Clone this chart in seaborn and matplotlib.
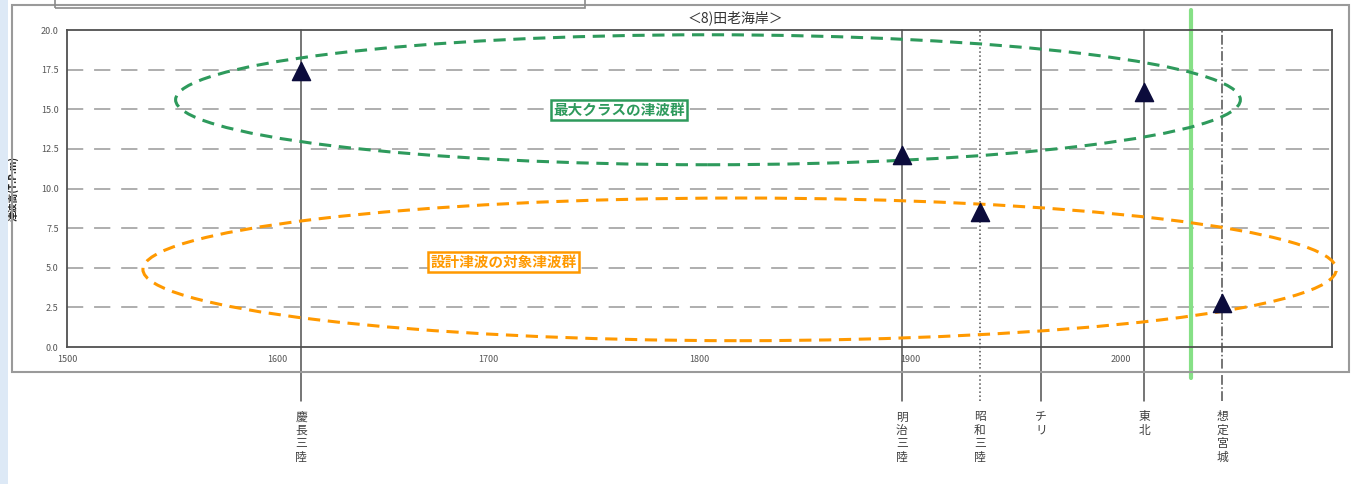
import matplotlib
matplotlib.use("Agg")
import matplotlib.pyplot as plt
import matplotlib.transforms as mtransforms
from matplotlib.patches import Ellipse, Rectangle
import seaborn as sns
import pandas as pd

# --- data ---
events = ["慶長三陸", "明治三陸", "昭和三陸", "チリ", "東北", "想定宮城"]
event_years = [1611, 1896, 1933, 1962, 2011, 2048]
event_styles = ["-", "-", ":", "-", "-", "-."]

mark_years = [1611, 1896, 1933, 2011, 2048]
mark_heights = [17.4, 12.1, 8.5, 16.1, 2.8]

groups = ["最大クラスの津波群", "設計津波の対象津波群"]
group_colors = ["#2e9a5c", "#ff9900"]
group_cx = [1804, 1819]
group_cy = [15.6, 4.9]
group_w = [505, 566]
group_h = [8.2, 9.0]
group_label_x = [1762, 1707]
group_label_y = [14.95, 5.35]

now_year = 2033
x_ticks = [1500, 1600, 1700, 1800, 1900, 2000]
y_ticks = [0.0, 2.5, 5.0, 7.5, 10.0, 12.5, 15.0, 17.5, 20.0]

sns.set_style("white")
plt.rcParams['font.family'] = ['Noto Sans CJK JP', 'DejaVu Sans']

fig = plt.figure(figsize=(13.51, 4.84), dpi=100)
ax = fig.add_axes([0.0496, 0.283, 0.9364, 0.655])

# outer frame of the chart area
fig.patches.append(Rectangle((0, 0), 8 / 1351, 1, transform=fig.transFigure,
                             facecolor="#dde9f6", edgecolor="none"))
fig.patches.append(Rectangle((12 / 1351, 1 - 372 / 484), 1337 / 1351, 367 / 484,
                             transform=fig.transFigure, fill=False,
                             edgecolor="#9a9a9a", lw=1.5))
fig.patches.append(Rectangle((55 / 1351, 1 - 8 / 484), 530 / 1351, 10 / 484,
                             transform=fig.transFigure, fill=False,
                             edgecolor="#8a8a8a", lw=1.2))

df = pd.DataFrame({"year": mark_years, "height": mark_heights})

# horizontal dashed grid
for yv in y_ticks[1:-1]:
    ax.axhline(yv, color="#a8a8a8", lw=1.3, dashes=(9, 6), zorder=1)

trans = mtransforms.blended_transform_factory(ax.transData, ax.transAxes)

# event lines running below the axis, with vertical labels
for name, yr, ls in zip(events, event_years, event_styles):
    ax.plot([yr, yr], [-0.17, 1.0], transform=trans, color="#505050",
            lw=1.1, ls=ls, clip_on=False, zorder=2)
    ax.text(yr, -0.2, "\n".join(name), transform=trans, ha="center", va="top",
            fontsize=8.5, color="#404040", linespacing=1.05)

# present-day line
ax.plot([now_year, now_year], [-0.098, 1.063], transform=trans,
        color="#86e086", lw=3, clip_on=False, zorder=2)

# tsunami groups
for name, c, cx, cy, w, h, lx, ly in zip(groups, group_colors, group_cx, group_cy,
                                         group_w, group_h, group_label_x, group_label_y):
    ell = Ellipse((cx, cy), w, h, fill=False, edgecolor=c, lw=2.2,
                  ls=(0, (4, 2.5)), clip_on=False, zorder=3)
    ax.add_patch(ell)
    ax.text(lx, ly, name, ha="center", va="center", fontsize=10.5, color=c,
            fontweight="bold", zorder=5,
            bbox=dict(boxstyle="square,pad=0.15", facecolor="white", edgecolor=c, lw=1.8))

sns.scatterplot(data=df, x="year", y="height", marker="^", s=170,
                color="#0c0c3c", edgecolor="#0c0c3c", ax=ax, zorder=6, legend=False)

ax.set_xlim(1500, 2100)
ax.set_ylim(0, 20)
ax.set_xticks(x_ticks)
ax.set_yticks(y_ticks)
ax.set_xticklabels([str(t) for t in x_ticks], fontsize=6.5, color="#555555")
ax.set_yticklabels(["%.1f" % t for t in y_ticks], fontsize=6.5, color="#555555")
ax.tick_params(length=0, pad=6)
ax.set_xlabel("")
ax.set_ylabel("津波高(T.P.m)", fontsize=7, fontweight="bold", color="#222222")
ax.yaxis.set_label_coords(-0.038, 0.5)
for sp in ax.spines.values():
    sp.set_color("#505050")
    sp.set_linewidth(1.3)

ax.text(0.528, 1.038, "＜8)田老海岸＞", transform=ax.transAxes, ha="center",
        va="center", fontsize=10, color="#333333")

fig.savefig("out.png", dpi=100)
